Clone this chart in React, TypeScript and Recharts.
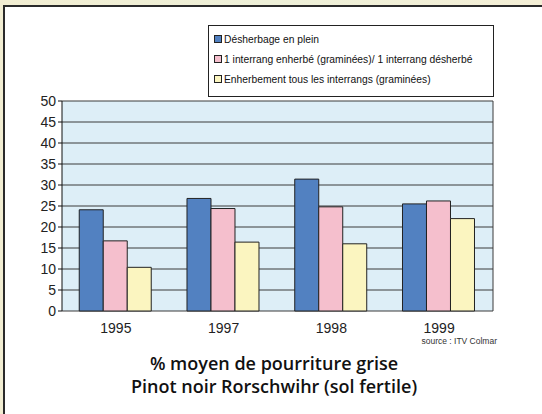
import { BarChart, Bar, XAxis, YAxis, CartesianGrid } from "recharts"

const years = ["1995", "1997", "1998", "1999"]
const desherbage = [24.1, 26.8, 31.4, 25.5]
const interrang = [16.7, 24.4, 24.8, 26.2]
const enherbement = [10.4, 16.4, 16.0, 22.0]
const yTicks = [0, 5, 10, 15, 20, 25, 30, 35, 40, 45, 50]
const categoryEdges = [0, 1, 2, 3, 4]

const series = [
  { key: "desherbage", name: "Désherbage en plein", color: "#5281c1" },
  { key: "interrang", name: "1 interrang enherbé (graminées)/ 1 interrang désherbé", color: "#f5bfcd" },
  { key: "enherbement", name: "Enherbement tous les interrangs (graminées)", color: "#fbf5c0" },
]

const data = years.map((year, i) => ({
  year,
  idx: i + 0.5,
  desherbage: desherbage[i],
  interrang: interrang[i],
  enherbement: enherbement[i],
}))

const font = "'Liberation Sans', Arial, sans-serif"
const beige = "linear-gradient(90deg, #f2eed2, #eef0d8 50%, #f4efd6)"

function LegendBox() {
  return (
    <div
      style={{
        position: "absolute",
        left: 208,
        top: 25,
        width: 286,
        height: 72,
        border: "1px solid #222",
        background: "#fff",
        padding: "3px 0 0 5px",
        boxSizing: "border-box",
        fontFamily: font,
        fontSize: 10.3,
        color: "#111",
      }}
    >
      {series.map((s) => (
        <div key={s.key} style={{ display: "flex", alignItems: "center", height: 20 }}>
          <span
            style={{
              display: "inline-block",
              width: 6,
              height: 6,
              background: s.color,
              border: "1px solid #222",
              marginRight: 2,
            }}
          />
          {s.name}
        </div>
      ))}
    </div>
  )
}

export default function App() {
  return (
    <div
      style={{
        position: "absolute",
        left: 0,
        top: 0,
        width: 542,
        height: 414,
        overflow: "hidden",
        background: "#fff",
      }}
    >
      {/* beige page behind the white panel: top and left strips */}
      <div style={{ position: "absolute", left: 0, top: 0, width: 542, height: 5, background: beige }} />
      <div style={{ position: "absolute", left: 0, top: 0, width: 3, height: 414, background: "#f1edd2" }} />
      <div
        style={{
          position: "absolute",
          left: 3,
          top: 5,
          width: 560,
          height: 420,
          borderLeft: "2px solid #2a2a2a",
          borderTop: "2px solid #2a2a2a",
        }}
      />
      <div style={{ position: "absolute", left: 0, top: 0 }}>
        <BarChart
          width={542}
          height={414}
          data={data}
          margin={{ top: 101, right: 49, bottom: 73, left: 12 }}
          barCategoryGap="16%"
          barGap={0}
        >
          <CartesianGrid
            fill="#ddeef7"
            stroke="#3a3a3a"
            horizontalValues={yTicks}
            verticalCoordinatesGenerator={({ offset }: any) => [offset.left + offset.width]}
          />
          <XAxis
            xAxisId="edges"
            type="number"
            dataKey="idx"
            domain={[0, 4]}
            ticks={categoryEdges}
            height={0}
            tickSize={4}
            tickFormatter={() => ""}
            axisLine={{ stroke: "#888" }}
            tickLine={{ stroke: "#555" }}
          />
          <XAxis
            dataKey="year"
            height={30}
            axisLine={false}
            tickLine={false}
            tick={{ fontSize: 14, fill: "#222", fontFamily: font }}
            tickMargin={6}
          />
          <YAxis
            width={50}
            domain={[0, 50]}
            ticks={yTicks}
            interval={0}
            tickSize={4}
            axisLine={{ stroke: "#111" }}
            tickLine={{ stroke: "#111" }}
            tick={{ fontSize: 14, fill: "#222", fontFamily: font }}
          />
          {series.map((s) => (
            <Bar
              key={s.key}
              dataKey={s.key}
              name={s.name}
              fill={s.color}
              stroke="#222"
              strokeWidth={1}
              isAnimationActive={false}
            />
          ))}
        </BarChart>
      </div>
      <LegendBox />
      <div
        style={{
          position: "absolute",
          right: 45,
          top: 336,
          fontFamily: font,
          fontSize: 8.5,
          color: "#333",
        }}
      >
        source : ITV Colmar
      </div>
      <div
        style={{
          position: "absolute",
          left: 0,
          width: 548,
          top: 352,
          textAlign: "center",
          fontFamily: "'Open Sans', sans-serif",
          fontWeight: 600,
          fontSize: 18,
          lineHeight: "23px",
          color: "#111",
        }}
      >
        % moyen de pourriture grise
        <br />
        Pinot noir Rorschwihr (sol fertile)
      </div>
    </div>
  )
}
